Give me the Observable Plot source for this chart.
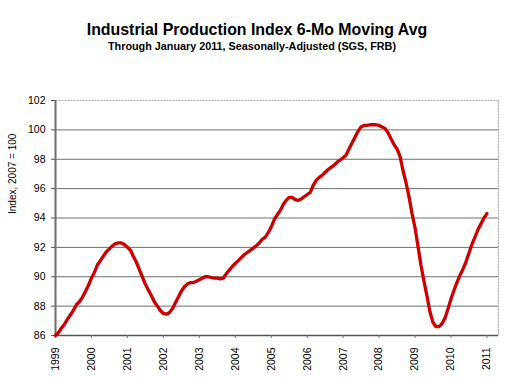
<!DOCTYPE html>
<html>
<head>
<meta charset="utf-8">
<script src="https://cdn.jsdelivr.net/npm/d3@7"></script>
<script src="https://cdn.jsdelivr.net/npm/@observablehq/plot@0.6"></script>
<style>
  html, body { margin: 0; padding: 0; background: #fff; }
  #wrap { width: 508px; font-family: "Liberation Sans", Arial, sans-serif; }
  #head { position: relative; height: 62px; }
  #title { position: absolute; left: 0; width: 514px; top: 21px; text-align: center; font-weight: bold; font-size: 15.9px; color: #000; }
  #sub { position: absolute; left: 0; width: 504px; top: 40px; text-align: center; font-weight: bold; font-size: 10.8px; color: #000; }
  svg { display: block; }
</style>
</head>
<body>
<div id="wrap">
  <div id="head">
    <div id="title">Industrial Production Index 6-Mo Moving Avg</div>
    <div id="sub">Through January 2011, Seasonally-Adjusted (SGS, FRB)</div>
  </div>
  <div id="chart"></div>
</div>
<script>
// Monthly values (Index, 2007 = 100), 6-month moving average, Jan..Dec
const y1999 = [86.0, 86.2, 86.5, 86.75, 87.1, 87.4, 87.7, 88.1, 88.3, 88.6, 89.0, 89.4];
const y2000 = [89.9, 90.3, 90.8, 91.1, 91.4, 91.7, 91.9, 92.1, 92.25, 92.3, 92.3, 92.2];
const y2001 = [92.0, 91.8, 91.4, 91.0, 90.5, 90.0, 89.5, 89.1, 88.7, 88.3, 88.0, 87.7];
const y2002 = [87.5, 87.45, 87.55, 87.8, 88.2, 88.6, 89.0, 89.3, 89.5, 89.6, 89.6, 89.7];
const y2003 = [89.8, 89.9, 90.0, 90.0, 89.95, 89.9, 89.9, 89.85, 89.9, 90.2, 90.45, 90.7];
const y2004 = [90.9, 91.1, 91.3, 91.5, 91.65, 91.8, 91.95, 92.1, 92.3, 92.55, 92.7, 93.0];
const y2005 = [93.4, 93.9, 94.2, 94.5, 94.9, 95.2, 95.4, 95.4, 95.25, 95.2, 95.3, 95.45];
const y2006 = [95.6, 95.75, 96.2, 96.55, 96.75, 96.9, 97.1, 97.3, 97.45, 97.6, 97.8, 97.95];
const y2007 = [98.1, 98.3, 98.7, 99.1, 99.5, 99.9, 100.2, 100.3, 100.3, 100.35, 100.35, 100.35];
const y2008 = [100.3, 100.2, 100.1, 99.8, 99.4, 99.0, 98.7, 98.2, 97.2, 96.4, 95.4, 94.3];
const y2009 = [93.3, 92.0, 90.8, 89.7, 88.7, 87.6, 86.9, 86.6, 86.6, 86.8, 87.2, 87.8];
const y2010 = [88.5, 89.1, 89.6, 90.1, 90.5, 91.0, 91.6, 92.2, 92.7, 93.2, 93.6, 94.0];
const y2011 = [94.3];

const years = [1999, 2000, 2001, 2002, 2003, 2004, 2005, 2006, 2007, 2008, 2009, 2010, 2011];
const yTicks = [86, 88, 90, 92, 94, 96, 98, 100, 102];
const yLabel = "Index, 2007 = 100";

const series = [y1999, y2000, y2001, y2002, y2003, y2004, y2005, y2006, y2007, y2008, y2009, y2010, y2011];
const data = [];
series.forEach((arr, i) => arr.forEach((v, m) => data.push({date: new Date(Date.UTC(years[i], m, 1)), value: v})));
const yearDates = years.map(y => new Date(Date.UTC(y, 0, 1)));

const chart = Plot.plot({
  width: 508,
  height: 319,
  marginTop: 38,
  marginBottom: 46,
  marginLeft: 55,
  marginRight: 10,
  style: {fontFamily: "'Liberation Sans', Arial, sans-serif", fontSize: "10px", color: "#000", background: "#fff"},
  x: {type: "utc", domain: [new Date(Date.UTC(1999, 0, 1)), new Date(Date.UTC(2011, 3, 28))]},
  y: {domain: [86, 102]},
  marks: [
    Plot.ruleY(yTicks.slice(1, -1), {stroke: "#6e6e6e", strokeWidth: 1}),
    Plot.frame({stroke: "#a8a8a8", strokeDasharray: "2,1", strokeWidth: 1.2}),
    Plot.ruleX([yearDates[0]], {stroke: "#707070", strokeWidth: 2}),
    Plot.ruleY([86], {stroke: "#555", strokeWidth: 1.5}),
    Plot.axisY(yTicks, {tickSize: 4, tickPadding: 6, stroke: "#555", fill: "#000", fontSize: 10.5, label: null}),
    Plot.axisX(yearDates, {tickSize: 3, tickPadding: 9, tickRotate: -90, tickFormat: d => String(d.getUTCFullYear()), stroke: "#777", fill: "#000", fontSize: 10.5, label: null}),
    Plot.text([yLabel], {frameAnchor: "left", rotate: -90, dx: -43, dy: -4, fontSize: 10, fill: "#000"}),
    Plot.line(data, {x: "date", y: "value", stroke: "#cc0000", strokeWidth: 3.3, strokeLinejoin: "round", strokeLinecap: "round", curve: "linear"})
  ]
});
document.getElementById("chart").appendChild(chart);
</script>
</body>
</html>
